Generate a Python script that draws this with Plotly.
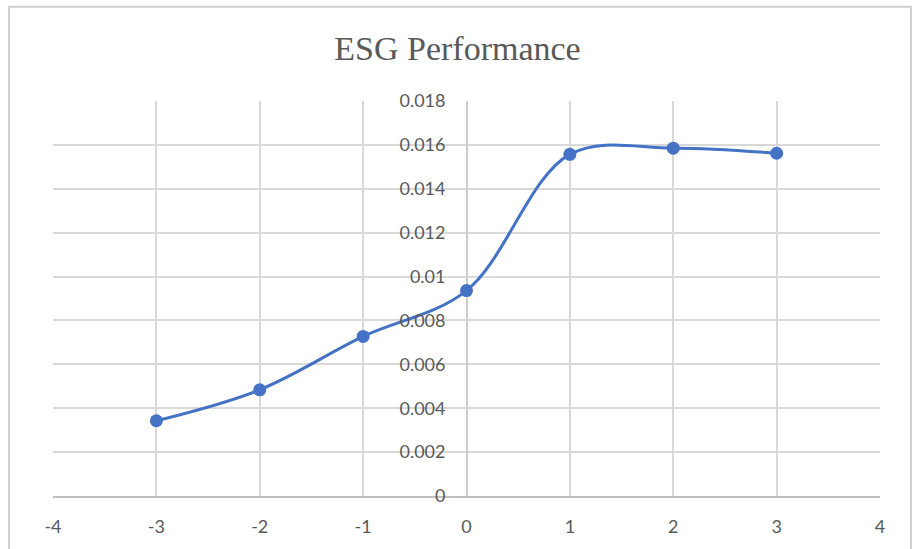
import plotly.graph_objects as go

x_vals = [-3, -2, -1, 0, 1, 2, 3]
y_vals = [0.00343, 0.00484, 0.00727, 0.00936, 0.01557, 0.01585, 0.01562]
y_ticks = [0, 0.002, 0.004, 0.006, 0.008, 0.01, 0.012, 0.014, 0.016, 0.018]
y_tick_labels = ["0", "0.002", "0.004", "0.006", "0.008", "0.01", "0.012", "0.014", "0.016", "0.018"]
x_ticks = [-4, -3, -2, -1, 0, 1, 2, 3, 4]
x_tick_labels = ["-4", "-3", "-2", "-1", "0", "1", "2", "3", "4"]

blue = "#4472C4"
grid = "#d9d9d9"
tick_font = dict(family="Lato, Liberation Sans, sans-serif", size=18, color="#595959")

fig = go.Figure()
fig.add_trace(go.Scatter(
    x=x_vals, y=y_vals, mode="lines+markers",
    line=dict(color=blue, width=3, shape="spline", smoothing=1.0),
    marker=dict(color=blue, size=13),
    showlegend=False,
))

fig.update_layout(
    width=915, height=549,
    margin=dict(l=53, r=35, t=101, b=53),
    paper_bgcolor="white", plot_bgcolor="white",
    title=dict(text="ESG Performance", x=0.5, xanchor="center", y=0.912, yanchor="middle",
               font=dict(family="Liberation Serif, Times New Roman, serif", size=34, color="#595959")),
    xaxis=dict(range=[-4, 4], tickvals=x_ticks, ticktext=x_tick_labels,
               showgrid=True, gridcolor=grid, gridwidth=2,
               zeroline=True, zerolinecolor="#cccccc", zerolinewidth=2,
               showline=True, linecolor="#bfbfbf", linewidth=2,
               ticks="", ticklabelstandoff=13, tickfont=tick_font,
               automargin=False, fixedrange=True),
    yaxis=dict(range=[0, 0.018], tickvals=y_ticks, ticktext=y_tick_labels,
               showgrid=True, gridcolor=grid, gridwidth=2,
               zeroline=False, showline=False,
               anchor="free", position=0.5, ticks="",
               ticklabelstandoff=21,
               tickfont=tick_font, automargin=False, fixedrange=True),
    shapes=[dict(type="rect", xref="paper", yref="paper",
                 x0=-0.0532, x1=1.0375, y0=-0.3, y1=1.2386,
                 line=dict(color="#d0d0d0", width=2), fillcolor="rgba(0,0,0,0)", layer="below")],
)

fig.write_html("out.html", config={"displayModeBar": False},
               post_script="document.body.style.margin='0';document.body.style.padding='0';")
